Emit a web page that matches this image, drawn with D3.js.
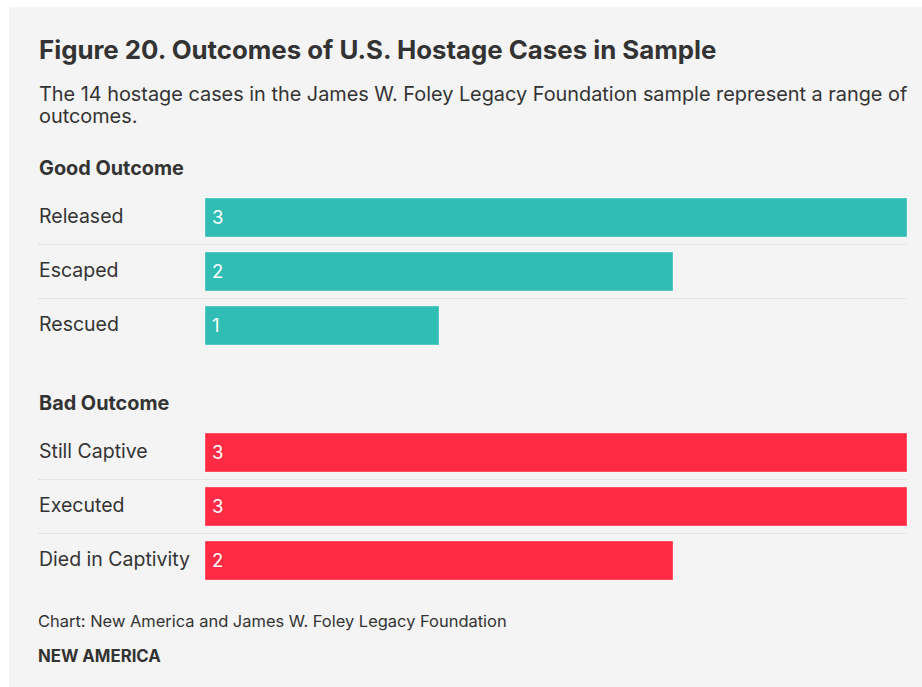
<!DOCTYPE html>
<html>
<head>
<meta charset="utf-8">
<script src="https://cdn.jsdelivr.net/npm/d3@7"></script>
<style>
  body { margin: 0; background: #fff; }
  text { font-family: Inter, "Noto Sans", sans-serif; }
</style>
</head>
<body>
<svg id="chart" width="922" height="687"></svg>
<script>
// data
var goodLabels = ["Released", "Escaped", "Rescued"];
var goodValues = [3, 2, 1];
var badLabels = ["Still Captive", "Executed", "Died in Captivity"];
var badValues = [3, 3, 2];
var groups = ["Good Outcome", "Bad Outcome"];
var colors = ["#2fbdb4", "#ff2a44"];

var svg = d3.select("#chart");
svg.append("rect").attr("x", 9).attr("y", 7).attr("width", 913).attr("height", 680).attr("fill", "#f4f4f4");

var ink = "#333";

// scale font size so text spans the width seen in the reference
function fit(t, w) {
  var s = +t.attr("font-size");
  var len = t.node().getComputedTextLength();
  t.attr("font-size", s * w / len);
  return s * w / len;
}

fit(svg.append("text").attr("x", 39).attr("y", 59)
  .attr("font-size", 24).attr("font-weight", 700).attr("fill", ink)
  .text("Figure 20. Outcomes of U.S. Hostage Cases in Sample"), 678);
var subSize = fit(svg.append("text").attr("x", 39).attr("y", 101)
  .attr("font-size", 19).attr("fill", ink)
  .text("The 14 hostage cases in the James W. Foley Legacy Foundation sample represent a range of"), 869);
svg.append("text").attr("x", 39).attr("y", 123)
  .attr("font-size", subSize).attr("fill", ink)
  .text("outcomes.");

var x = d3.scaleLinear().domain([0, 3]).range([205, 907]);

// measure label size from the longest label
var probe = svg.append("text").attr("font-size", 18).text("Died in Captivity");
var labSize = 18 * 151 / probe.node().getComputedTextLength();
probe.remove();
var probe2 = svg.append("text").attr("font-size", 18).attr("font-weight", 700).text("Good Outcome");
var headSize = 18 * 145 / probe2.node().getComputedTextLength();
probe2.remove();

function drawGroup(name, labels, values, color, top) {
  var g = svg.append("g");
  g.append("text").attr("x", 39).attr("y", top + 6)
    .attr("font-size", headSize).attr("font-weight", 700).attr("fill", ink).text(name);

  // step 54, bar 39
  var y = d3.scaleBand().domain(labels)
    .range([top + 29, top + 29 + 54 * labels.length - 15])
    .paddingInner(15 / 54).paddingOuter(0);

  // dotted separators
  g.selectAll("line.sep").data(labels.slice(0, -1)).join("line")
    .attr("x1", 39).attr("x2", 907)
    .attr("y1", function (d) { return y(d) + 46.5; })
    .attr("y2", function (d) { return y(d) + 46.5; })
    .attr("stroke", "#d4d4d4").attr("stroke-width", 1).attr("stroke-dasharray", "1,1");

  g.selectAll("rect.bar").data(values).join("rect")
    .attr("x", x(0))
    .attr("y", function (d, i) { return y(labels[i]); })
    .attr("width", function (d) { return x(d) - x(0); })
    .attr("height", y.bandwidth())
    .attr("fill", color)
    .attr("stroke", "rgba(255,255,255,0.35)").attr("stroke-width", 1);

  g.selectAll("text.val").data(values).join("text")
    .attr("x", x(0) + 7)
    .attr("y", function (d, i) { return y(labels[i]) + 25.5; })
    .attr("font-size", labSize * 0.95).attr("fill", "#fff").text(function (d) { return d; });

  g.selectAll("text.lab").data(labels).join("text")
    .attr("x", 39)
    .attr("y", function (d) { return y(d) + 24.5; })
    .attr("font-size", labSize).attr("fill", ink).text(function (d) { return d; });
}

drawGroup(groups[0], goodLabels, goodValues, colors[0], 169);
drawGroup(groups[1], badLabels, badValues, colors[1], 404);

fit(svg.append("text").attr("x", 38).attr("y", 627)
  .attr("font-size", 16).attr("fill", ink)
  .text("Chart: New America and James W. Foley Legacy Foundation"), 469);
fit(svg.append("text").attr("x", 38).attr("y", 662)
  .attr("font-size", 16).attr("font-weight", 700).attr("fill", ink)
  .text("NEW AMERICA"), 123);
</script>
</body>
</html>
